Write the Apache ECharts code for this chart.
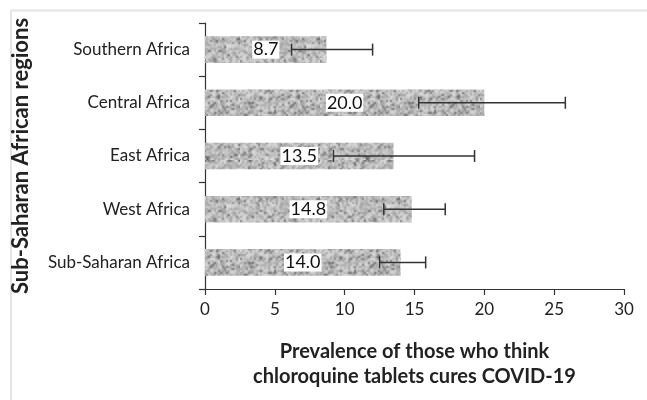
<!DOCTYPE html>
<html><head><meta charset="utf-8">
<script src="https://cdn.jsdelivr.net/npm/echarts@6/dist/echarts.min.js"></script>
<style>html,body{margin:0;padding:0;background:#fff}#c{width:647px;height:400px}</style>
</head><body><div id="c"></div>
<script>
const categories = ['Sub-Saharan Africa','West Africa','East Africa','Central Africa','Southern Africa'];
const values = [14.0, 14.8, 13.5, 20.0, 8.7];
const lowerCI = [12.5, 12.8, 9.2, 15.3, 6.2];
const upperCI = [15.8, 17.2, 19.3, 25.8, 12.0];
const xTicks = [0, 5, 10, 15, 20, 25, 30];

// deterministic mottled texture for bars
function makeTexture(){
  const n = 40, sc = 2;
  const small = document.createElement('canvas');
  small.width = n; small.height = n;
  const sctx = small.getContext('2d');
  const img = sctx.createImageData(n, n);
  let s = 98765;
  function rnd(){ s = (s * 1103515245 + 12345) & 0x7fffffff; return s / 0x7fffffff; }
  for (let i = 0; i < n*n; i++){
    const r = rnd();
    let g = 150 + Math.floor(r * 75);
    if (r < 0.1) g = 95 + Math.floor(r * 400);
    img.data[i*4] = g; img.data[i*4+1] = g; img.data[i*4+2] = g; img.data[i*4+3] = 255;
  }
  sctx.putImageData(img, 0, 0);
  const c = document.createElement('canvas');
  c.width = n*sc; c.height = n*sc;
  const ctx = c.getContext('2d');
  ctx.imageSmoothingEnabled = true;
  ctx.drawImage(small, 0, 0, n*sc, n*sc);
  return c;
}

const font = 'Lato, "Open Sans", sans-serif';
const chart = echarts.init(document.getElementById('c'));
chart.setOption({
  animation: false,
  backgroundColor: '#fff',
  graphic: [
    {type:'line', shape:{x1:11,y1:10.5,x2:647,y2:10.5}, style:{stroke:'#e4e4e4', lineWidth:2}},
    {type:'line', shape:{x1:11,y1:10,x2:11,y2:400}, style:{stroke:'#e4e4e4', lineWidth:2}}
  ],
  grid: {left: 205, right: 23, top: 23, bottom: 111},
  xAxis: {
    type: 'value', min: 0, max: 30, interval: 5,
    axisLine: {show: true, lineStyle: {color: '#333', width: 1.2}},
    axisTick: {show: true, length: 6, lineStyle: {color: '#333', width: 1.2}},
    splitLine: {show: false},
    axisLabel: {color: '#222', fontSize: 17, fontFamily: font, margin: 12,
      formatter: v => xTicks.includes(v) ? String(v) : ''},
    name: 'Prevalence of those who think\nchloroquine tablets cures COVID-19',
    nameLocation: 'middle', nameGap: 50,
    nameTextStyle: {color: '#222', fontSize: 20, fontWeight: 'bold', fontFamily: font, lineHeight: 25}
  },
  yAxis: {
    type: 'category', data: categories,
    axisLine: {show: true, lineStyle: {color: '#333', width: 1.2}},
    axisTick: {show: true, length: 6, lineStyle: {color: '#333', width: 1.2}},
    axisLabel: {color: '#222', fontSize: 17, fontFamily: font, margin: 15},
    name: 'Sub-Saharan African regions', nameLocation: 'middle', nameGap: 173,
    nameTextStyle: {color: '#222', fontSize: 22, fontWeight: 'bold', fontFamily: font}
  },
  series: [
    {
      type: 'bar', data: values, barWidth: '50%',
      itemStyle: {color: {image: makeTexture(), repeat: 'repeat'}},
      label: {show: true, position: 'inside', formatter: p => p.value.toFixed(1),
        color: '#111', fontSize: 18, fontFamily: font, backgroundColor: '#fff', padding: [0, 1]}
    },
    {
      type: 'custom',
      data: categories.map((c, i) => [i, lowerCI[i], upperCI[i]]),
      encode: {y: 0, x: [1, 2]},
      renderItem: function(params, api){
        const i = api.value(0);
        const lo = api.coord([api.value(1), i]);
        const hi = api.coord([api.value(2), i]);
        const h = 6;
        const st = {stroke: '#333', lineWidth: 1.5};
        return {type: 'group', children: [
          {type:'line', shape:{x1:lo[0],y1:lo[1],x2:hi[0],y2:hi[1]}, style: st},
          {type:'line', shape:{x1:lo[0],y1:lo[1]-h,x2:lo[0],y2:lo[1]+h}, style: st},
          {type:'line', shape:{x1:hi[0],y1:hi[1]-h,x2:hi[0],y2:hi[1]+h}, style: st}
        ]};
      },
      z: 5
    }
  ]
});
</script></body></html>
